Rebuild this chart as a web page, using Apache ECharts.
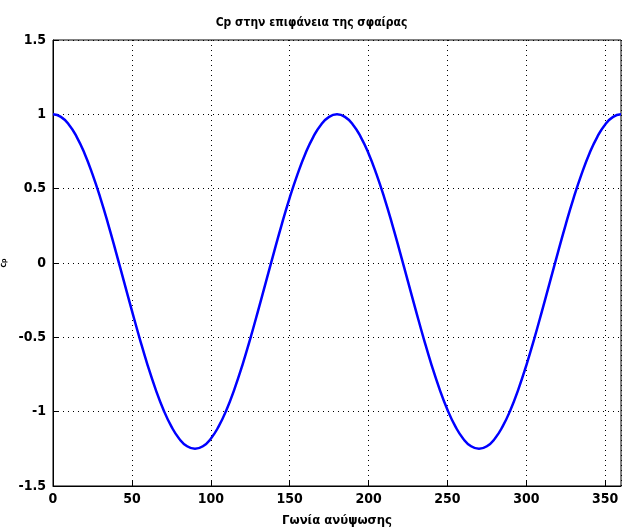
<!DOCTYPE html>
<html>
<head>
<meta charset="utf-8">
<script src="https://cdn.jsdelivr.net/npm/echarts@6/dist/echarts.min.js"></script>
<style>
  html, body { margin: 0; padding: 0; background: #fff; }
  #chart { width: 623px; height: 532px; }
</style>
</head>
<body>
<div id="chart"></div>
<script>
// γωνία (μοίρες)
var angles = [
  0, 5, 10, 15, 20, 25, 30, 35, 40, 45, 50, 55, 60, 65, 70, 75, 80, 85, 90,
  95, 100, 105, 110, 115, 120, 125, 130, 135, 140, 145, 150, 155, 160, 165, 170, 175, 180,
  185, 190, 195, 200, 205, 210, 215, 220, 225, 230, 235, 240, 245, 250, 255, 260, 265, 270,
  275, 280, 285, 290, 295, 300, 305, 310, 315, 320, 325, 330, 335, 340, 345, 350, 355, 360
];
// Cp τιμές
var cpValues = [
  1, 0.983, 0.932, 0.849, 0.737, 0.598, 0.438, 0.260, 0.070, -0.125, -0.320, -0.510, -0.688, -0.848, -0.987, -1.099, -1.182, -1.233, -1.25,
  -1.233, -1.182, -1.099, -0.987, -0.848, -0.688, -0.510, -0.320, -0.125, 0.070, 0.260, 0.438, 0.598, 0.737, 0.849, 0.932, 0.983, 1,
  0.983, 0.932, 0.849, 0.737, 0.598, 0.438, 0.260, 0.070, -0.125, -0.320, -0.510, -0.688, -0.848, -0.987, -1.099, -1.182, -1.233, -1.25,
  -1.233, -1.182, -1.099, -0.987, -0.848, -0.688, -0.510, -0.320, -0.125, 0.070, 0.260, 0.438, 0.598, 0.737, 0.849, 0.932, 0.983, 1
];
var titleText = 'Cp στην επιφάνεια της σφαίρας';
var xName = 'Γωνία ανύψωσης';
var yName = 'Cp';

var seriesData = [];
for (var i = 0; i < angles.length; i++) {
  seriesData.push([angles[i], cpValues[i]]);
}

var font = '"DejaVu Sans Condensed", "Liberation Sans Narrow", sans-serif';
var gridLine = { show: true, lineStyle: { color: '#000', type: [1, 4], width: 1 } };

var chart = echarts.init(document.getElementById('chart'));
chart.setOption({
  animation: false,
  backgroundColor: '#fff',
  title: {
    text: titleText,
    left: 'center',
    top: 12,
    textStyle: { fontFamily: font, fontSize: 12, fontWeight: 'bold', color: '#000' }
  },
  grid: {
    left: 53, right: 2, top: 40, bottom: 46,
    outerBoundsMode: 'none',
    containLabel: false,
    show: true, borderColor: '#000', borderWidth: 1, backgroundColor: '#fff'
  },
  xAxis: {
    type: 'value',
    min: 0, max: 360, interval: 50,
    name: xName,
    nameLocation: 'middle',
    nameGap: 28,
    nameTextStyle: { fontFamily: font, fontSize: 13, fontWeight: 'bold', color: '#000' },
    axisLine: { show: true, onZero: false, lineStyle: { color: '#000' } },
    axisTick: { show: true, inside: true, length: 5, lineStyle: { color: '#000' } },
    axisLabel: { fontFamily: font, fontSize: 14, fontWeight: 'bold', color: '#000', margin: 6,
      showMaxLabel: false },
    splitLine: gridLine
  },
  yAxis: {
    type: 'value',
    min: -1.5, max: 1.5, interval: 0.5,
    name: yName,
    nameLocation: 'middle',
    nameGap: 38,
    nameRotate: 90,
    nameTextStyle: { fontFamily: font, fontSize: 7, fontWeight: 'bold', color: '#000' },
    axisLine: { show: true, onZero: false, lineStyle: { color: '#000' } },
    axisTick: { show: true, inside: true, length: 5, lineStyle: { color: '#000' } },
    axisLabel: { fontFamily: font, fontSize: 14, fontWeight: 'bold', color: '#000', margin: 7 },
    splitLine: gridLine
  },
  series: [{
    type: 'line',
    data: seriesData,
    smooth: true,
    showSymbol: false,
    lineStyle: { color: '#0000ff', width: 2.5 }
  }]
});
</script>
</body>
</html>
